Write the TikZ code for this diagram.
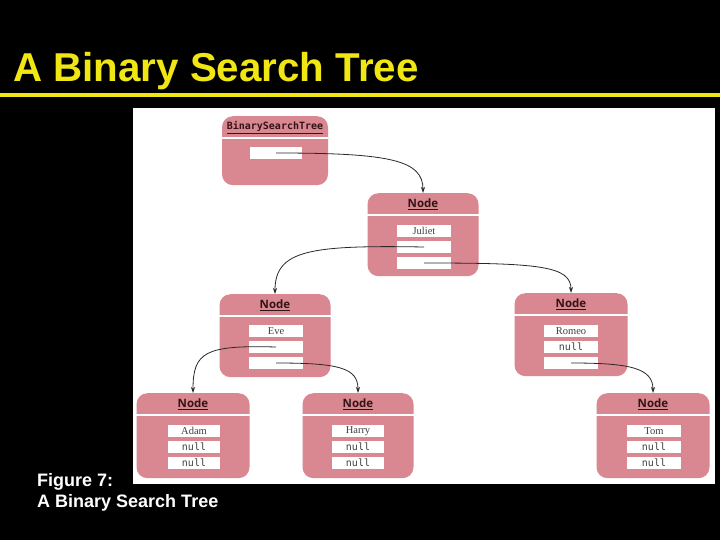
\documentclass[tikz,border=0pt]{standalone}
\usepackage{fontspec}
\setmainfont{Liberation Sans}
\newfontfamily\hdrfont{Open Sans}
\newfontfamily\codefont{DejaVu Sans Mono}
\newfontfamily\txtfont{Liberation Serif}
\usetikzlibrary{arrows.meta}
\definecolor{titleyellow}{RGB}{240,230,20}
\definecolor{boxpink}{RGB}{217,135,144}
\definecolor{hdrdark}{RGB}{50,20,22}
\definecolor{conncol}{RGB}{40,40,40}
\tikzset{
  objbox/.style={fill=boxpink, rounded corners=11pt, inner sep=0pt, draw=none},
  hdr/.style={font=\hdrfont\bfseries\fontsize{11.5}{12}\selectfont, text=hdrdark, inner sep=0pt},
  field/.style={fill=white, minimum height=12.5pt, inner sep=0pt, font=\txtfont\fontsize{10.5}{11}\selectfont, text=black!75},
  nullfield/.style={field, font=\codefont\fontsize{10}{11}\selectfont},
  conn/.style={draw=conncol, line width=0.8pt, -{Stealth[length=6pt,width=4pt]}},
}
\newcommand{\objframe}[6]{%
  \node[objbox, minimum width=#4pt, minimum height=#5pt, anchor=north] (#1) at (#2,#3) {};
  \draw[white, line width=2.5pt] ([yshift=-22pt]#1.north west) -- ([yshift=-22pt]#1.north east);
  \node[hdr] (#1-t) at ([yshift=-11pt]#1.north) {\underline{#6}};
}
\begin{document}
\begin{tikzpicture}[x=1pt,y=-1pt]
\fill[black] (0,0) rectangle (720,540);
\useasboundingbox (0,0) rectangle (720,540);
\node[anchor=base west, inner sep=0pt, text=titleyellow, font=\bfseries\fontsize{40.3}{41}\selectfont] (title) at (13,82) {A Binary Search Tree};
\draw[titleyellow, line width=3.5pt] (0,95) -- (720,95);
\fill[white] (133,108) rectangle (715,484);

% BinarySearchTree object
\node[objbox, minimum width=106pt, minimum height=69pt, anchor=north] (bst) at (275,116) {};
\draw[white, line width=2.5pt] ([yshift=-22pt]bst.north west) -- ([yshift=-22pt]bst.north east);
\node[hdr, font=\codefont\bfseries\fontsize{10}{11}\selectfont] (bst-t) at ([yshift=-11.5pt]bst.north) {\underline{BinarySearchTree}};
\node[field, minimum width=52pt] (bst-root) at (276,153) {};

% Juliet
\objframe{jul}{423}{193}{111}{83}{Node}
\node[field, minimum width=54pt] (jul-d) at (424,231) {Juliet};
\node[field, minimum width=54pt] (jul-l) at (424,247) {};
\node[field, minimum width=54pt] (jul-r) at (424,263) {};

% Eve
\objframe{eve}{275}{294}{111}{83}{Node}
\node[field, minimum width=54pt] (eve-d) at (276,331) {Eve};
\node[field, minimum width=54pt] (eve-l) at (276,347) {};
\node[field, minimum width=54pt] (eve-r) at (276,363) {};

% Romeo
\objframe{rom}{571}{293}{113}{83}{Node}
\node[field, minimum width=54pt] (rom-d) at (571,331) {Romeo};
\node[nullfield, minimum width=54pt] (rom-l) at (571,347) {null};
\node[field, minimum width=54pt] (rom-r) at (571,363) {};

% Adam
\objframe{adam}{193}{393}{113}{85}{Node}
\node[field, minimum width=52pt] (adam-d) at (194,431) {Adam};
\node[nullfield, minimum width=52pt] (adam-l) at (194,447) {null};
\node[nullfield, minimum width=52pt] (adam-r) at (194,463) {null};

% Harry
\objframe{harry}{358}{393}{111}{85}{Node}
\node[field, minimum width=52pt] (harry-d) at (358,431) {Harry};
\node[nullfield, minimum width=52pt] (harry-l) at (358,447) {null};
\node[nullfield, minimum width=52pt] (harry-r) at (358,463) {null};

% Tom
\objframe{tom}{653}{393}{113}{85}{Node}
\node[field, minimum width=54pt] (tom-d) at (654,431) {Tom};
\node[nullfield, minimum width=54pt] (tom-l) at (654,447) {null};
\node[nullfield, minimum width=54pt] (tom-r) at (654,463) {null};

% connectors
\draw[conn] (bst-root.center) .. controls (390,153) and (423,160) .. (jul.north);
\draw[conn] (jul-l.center) .. controls (310,245) and (275,250) .. (eve.north);
\draw[conn] (jul-r.center) .. controls (540,263) and (571,266) .. (rom.north);
\draw[conn] (eve-l.center) .. controls (205,345) and (193,352) .. (adam.north);
\draw[conn] (eve-r.center) .. controls (340,363) and (358,368) .. (harry.north);
\draw[conn] (rom-r.center) .. controls (630,363) and (653,368) .. (tom.north);

% caption
\node[anchor=base west, inner sep=0pt, text=white, font=\bfseries\fontsize{18}{19}\selectfont] (cap1) at (37,486) {Figure 7:};
\node[anchor=base west, inner sep=0pt, text=white, font=\bfseries\fontsize{18}{19}\selectfont] (cap2) at (37,507) {A Binary Search Tree};
\end{tikzpicture}
\end{document}
